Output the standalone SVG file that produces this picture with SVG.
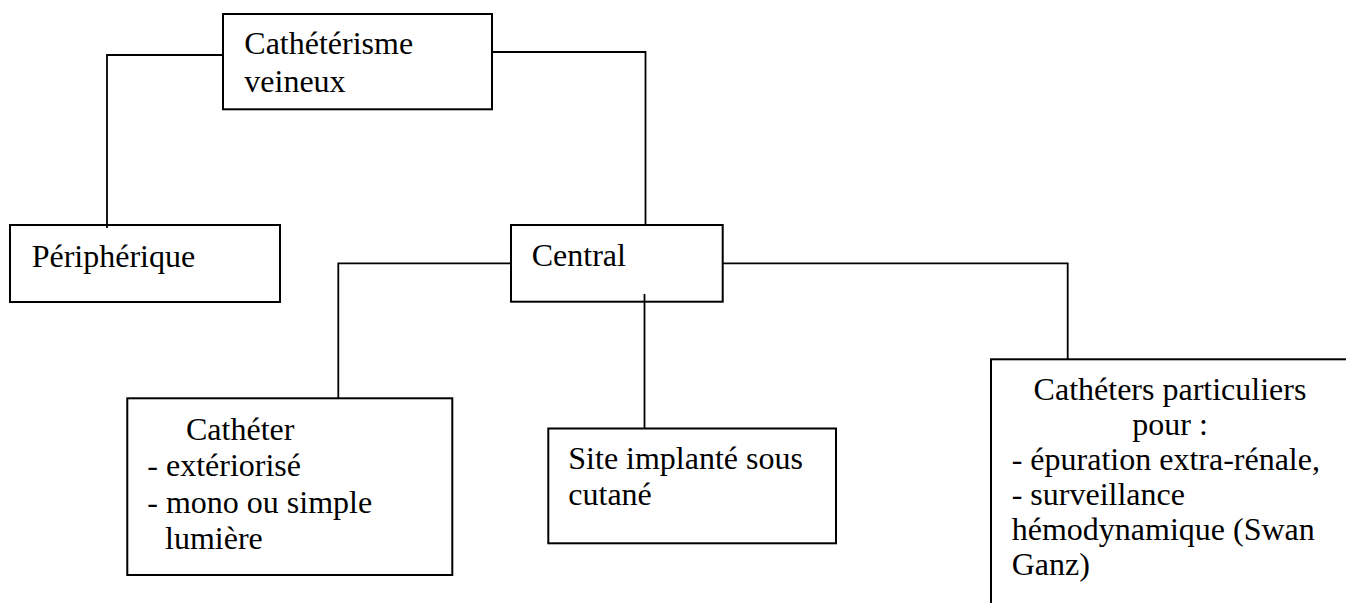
<svg xmlns="http://www.w3.org/2000/svg" width="1346" height="603" viewBox="0 0 1346 603">
<style>
.box{fill:#fff;stroke:#000;stroke-width:2}
.conn{fill:none;stroke:#000;stroke-width:1.8}
text{font-family:"Liberation Serif","Times New Roman",serif;font-size:32px;fill:#000}
.c{text-anchor:middle}
</style>
<rect width="1346" height="603" fill="#fff"/>
<g id="node-catheterisme">
<rect class="box" x="223" y="14" width="269" height="95.3"/>
<text x="244.3" y="54">Cathétérisme</text>
<text x="244.3" y="91.7">veineux</text>
</g>
<g id="node-peripherique">
<rect class="box" x="10" y="225" width="270" height="77"/>
<text x="31.7" y="266.5">Périphérique</text>
</g>
<g id="node-central">
<rect class="box" x="511" y="225" width="211.7" height="76.7"/>
<text x="531.7" y="265.7">Central</text>
</g>
<g id="node-catheter">
<rect class="box" x="127.3" y="398.3" width="325" height="176.7"/>
<text x="186" y="440">Cathéter</text>
<text x="147.3" y="476">- extériorisé</text>
<text x="147.3" y="512.5">- mono ou simple</text>
<text x="165" y="549">lumière</text>
</g>
<g id="node-site">
<rect class="box" x="548.3" y="428.5" width="287.7" height="114.8"/>
<text x="568.3" y="468.5">Site implanté sous</text>
<text x="568.3" y="505">cutané</text>
</g>
<g id="node-particuliers">
<rect class="box" x="991" y="359.3" width="360" height="260"/>
<text class="c" x="1170" y="400">Cathéters particuliers</text>
<text class="c" x="1170" y="435">pour :</text>
<text x="1011.7" y="470">- épuration extra-rénale,</text>
<text x="1011.7" y="505">- surveillance</text>
<text x="1011.7" y="540">hémodynamique (Swan</text>
<text x="1011.7" y="575">Ganz)</text>
</g>
<g id="connectors">
<polyline class="conn" points="223,55 107,55 107,228"/>
<polyline class="conn" points="492,52 645.5,52 645.5,225"/>
<polyline class="conn" points="511,263.3 338.3,263.3 338.3,398"/>
<polyline class="conn" points="644.5,294 644.5,428.5"/>
<polyline class="conn" points="722.7,263.3 1067.7,263.3 1067.7,359.3"/>
</g>
</svg>
